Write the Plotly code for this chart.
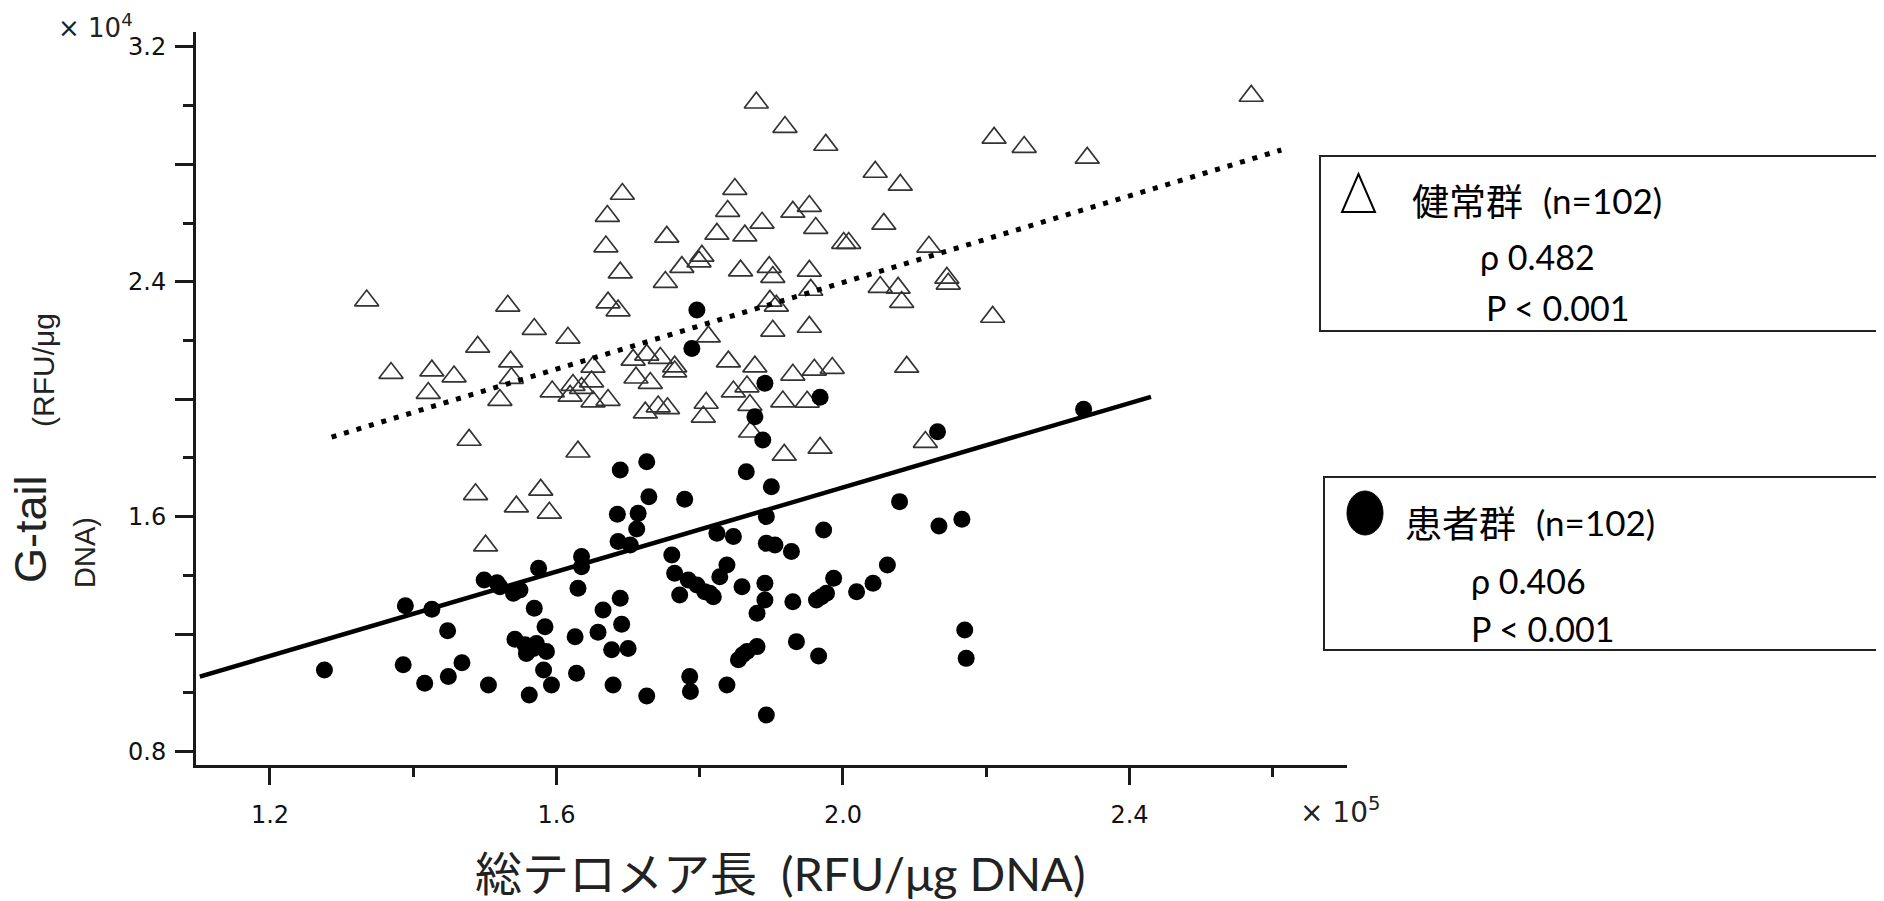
import plotly.graph_objects as go

# ---------------- data (x in 10^5 RFU/ug DNA, y in 10^4 RFU/ug DNA) ----------------
healthy_x = [1.879, 1.919, 1.692, 1.849, 1.671, 1.839, 1.930, 1.887, 1.824, 1.863,
             1.754, 1.669, 1.689, 1.775, 1.799, 1.803, 1.752, 1.857, 1.897, 1.902,
             1.335, 1.532, 1.672, 1.686, 1.898, 1.907, 1.812, 1.902, 1.569, 1.616,
             1.490, 1.369, 1.426, 1.457, 1.421, 1.536, 1.537, 1.521, 1.594, 1.623,
             1.635, 1.619, 1.651, 1.649, 1.651, 1.672, 1.707, 1.726, 1.745, 1.765,
             1.765, 1.711, 1.731, 1.724, 1.742, 1.755, 1.809, 1.805, 1.840, 1.877,
             1.847, 1.866, 1.870, 1.871, 1.916, 1.930, 1.478, 1.630, 1.918, 1.487,
             1.544, 1.578, 1.590, 1.501, 1.976, 2.211, 2.253, 2.341, 2.570, 2.045,
             2.080, 1.953, 1.962, 2.057, 2.001, 2.008, 1.953, 1.955, 2.052, 2.077,
             2.082, 2.120, 2.145, 2.147, 2.209, 1.953, 1.960, 1.985, 1.950, 1.968,
             2.089, 2.115]
healthy_y = [3.010, 2.927, 2.699, 2.716, 2.624, 2.641, 2.638, 2.601, 2.563, 2.557,
             2.553, 2.520, 2.431, 2.450, 2.469, 2.488, 2.399, 2.438, 2.450, 2.416,
             2.336, 2.318, 2.329, 2.302, 2.335, 2.318, 2.213, 2.233, 2.239, 2.209,
             2.178, 2.089, 2.097, 2.077, 2.021, 2.128, 2.072, 1.997, 2.026, 2.048,
             2.038, 2.011, 2.110, 2.060, 1.992, 1.997, 2.134, 2.151, 2.140, 2.111,
             2.094, 2.073, 2.055, 1.954, 1.975, 1.969, 1.987, 1.940, 2.128, 2.111,
             2.026, 2.043, 1.980, 1.889, 1.992, 2.083, 1.861, 1.821, 1.810, 1.676,
             1.634, 1.691, 1.613, 1.501, 2.866, 2.890, 2.859, 2.822, 3.033, 2.774,
             2.730, 2.658, 2.583, 2.597, 2.532, 2.532, 2.437, 2.372, 2.382, 2.379,
             2.331, 2.519, 2.413, 2.393, 2.280, 2.246, 2.100, 2.106, 1.991, 1.834,
             2.110, 1.854]

patient_x = [1.796, 1.789, 1.891, 1.877, 1.888, 1.726, 1.689, 1.865, 1.900, 1.729,
             1.779, 1.685, 1.714, 1.712, 1.893, 1.686, 1.703, 1.824, 1.847, 1.893,
             1.635, 1.635, 1.575, 1.499, 1.517, 1.540, 1.549, 1.389, 1.426, 1.761,
             1.765, 1.772, 1.796, 1.807, 1.819, 1.838, 1.828, 1.859, 1.891, 1.891,
             1.880, 1.630, 1.689, 1.569, 1.448, 1.584, 1.626, 1.658, 1.691, 1.542,
             1.556, 1.568, 1.586, 1.558, 1.677, 1.700, 1.386, 1.468, 1.276, 1.416,
             1.449, 1.505, 1.582, 1.593, 1.562, 1.628, 1.679, 1.726, 1.786, 1.787,
             1.838, 1.854, 1.866, 1.880, 1.893, 1.968, 2.132, 2.336, 2.079, 1.973,
             2.134, 2.166, 1.905, 1.928, 1.930, 1.963, 1.977, 1.987, 2.019, 2.042,
             2.062, 1.935, 1.966, 2.170, 2.172, 1.814, 1.784, 1.572, 1.521, 1.970,
             1.860, 1.665]
patient_y = [2.304, 2.173, 2.054, 1.940, 1.861, 1.787, 1.759, 1.753, 1.702, 1.668,
             1.659, 1.608, 1.611, 1.558, 1.600, 1.515, 1.503, 1.543, 1.532, 1.509,
             1.464, 1.429, 1.424, 1.384, 1.375, 1.339, 1.350, 1.296, 1.284, 1.469,
             1.407, 1.333, 1.367, 1.344, 1.327, 1.435, 1.395, 1.361, 1.373, 1.316,
             1.271, 1.356, 1.322, 1.288, 1.211, 1.225, 1.191, 1.206, 1.233, 1.182,
             1.163, 1.151, 1.140, 1.134, 1.146, 1.151, 1.095, 1.102, 1.077, 1.032,
             1.055, 1.026, 1.077, 1.026, 0.992, 1.066, 1.026, 0.989, 1.055, 1.004,
             1.026, 1.112, 1.140, 1.157, 0.924, 2.007, 1.889, 1.966, 1.651, 1.554,
             1.568, 1.591, 1.503, 1.481, 1.310, 1.316, 1.339, 1.390, 1.344, 1.373,
             1.435, 1.174, 1.125, 1.214, 1.117, 1.339, 1.384, 1.168, 1.361, 1.327,
             1.129, 1.282]

# regression lines (end points)
healthy_fit_x = [1.286, 2.612]
healthy_fit_y = [1.871, 2.849]
patient_fit_x = [1.102, 2.430]
patient_fit_y = [1.055, 2.008]

x_major = [1.2, 1.6, 2.0, 2.4]
x_minor = [1.4, 1.8, 2.2, 2.6]
y_major = [0.8, 1.2, 1.6, 2.0, 2.4, 2.8, 3.2]
y_major_text = ["0.8", " ", "1.6", " ", "2.4", " ", "3.2"]
y_minor = [1.0, 1.4, 1.8, 2.2, 2.6, 3.0]

legend_healthy = ["健常群", "(n=102)", "ρ 0.482", "P < 0.001"]
legend_patient = ["患者群", "(n=102)", "ρ 0.406", "P < 0.001"]

# ---------------- layout helpers ----------------
# The page body has an 8px margin, so the figure is drawn 8px in from the top-left.
OFF = 8
SW, SH = 1884, 901                 # screen size
W, H = SW - OFF, SH - OFF          # figure size
L, R, T, B = 196, 1347, 32, 765    # plot area in screen pixels


def px(x):
    return (x - L) / (R - L)


def py(y):
    return (B - y) / (B - T)


INK = "#1a1a1a"
LAT = "Lato, Noto Sans CJK JP, sans-serif"
CJK = "Noto Sans CJK JP, sans-serif"

fig = go.Figure()
fig.add_trace(go.Scatter(
    x=healthy_x, y=healthy_y, mode="markers",
    marker=dict(symbol="triangle-up-open", size=21, color="#333333",
                line=dict(width=1.7, color="#333333")),
    showlegend=False, hoverinfo="skip"))
fig.add_trace(go.Scatter(
    x=patient_x, y=patient_y, mode="markers",
    marker=dict(symbol="circle", size=17, color="#000000"),
    showlegend=False, hoverinfo="skip"))
fig.add_trace(go.Scatter(
    x=healthy_fit_x, y=healthy_fit_y, mode="lines",
    line=dict(color="#000000", width=5, dash="5px,8px"),
    showlegend=False, hoverinfo="skip"))
fig.add_trace(go.Scatter(
    x=patient_fit_x, y=patient_fit_y, mode="lines",
    line=dict(color="#000000", width=4.5),
    showlegend=False, hoverinfo="skip"))

tickfont = dict(family="DejaVu Sans, sans-serif", size=24, color="#111111")

fig.update_layout(
    width=W, height=H,
    margin=dict(l=L - OFF, r=W - (R - OFF), t=T - OFF, b=H - (B - OFF), pad=0),
    paper_bgcolor="white", plot_bgcolor="white",
    xaxis=dict(range=[1.0967, 2.7037], showgrid=False, zeroline=False,
               showline=True, linewidth=3, linecolor=INK,
               tickmode="array", tickvals=x_major, ticktext=[f"{v:.1f}" for v in x_major],
               ticks="outside", ticklen=17, tickwidth=3, tickcolor=INK,
               ticklabelstandoff=9, tickfont=tickfont,
               minor=dict(tickmode="array", tickvals=x_minor, ticks="outside",
                          ticklen=9, tickwidth=3, tickcolor=INK, showgrid=False)),
    yaxis=dict(range=[0.7537, 3.251], showgrid=False, zeroline=False,
               showline=True, linewidth=3, linecolor=INK,
               tickmode="array", tickvals=y_major, ticktext=y_major_text,
               ticks="outside", ticklen=18, tickwidth=3, tickcolor=INK,
               ticklabelstandoff=4, tickfont=tickfont,
               minor=dict(tickmode="array", tickvals=y_minor, ticks="outside",
                          ticklen=10, tickwidth=3, tickcolor=INK, showgrid=False)),
)

ann = []
# axis multipliers
ann.append(dict(x=px(95), y=py(26), text="× 10<sup>4</sup>", showarrow=False,
                xref="paper", yref="paper", xanchor="center", yanchor="middle",
                font=dict(family="DejaVu Sans, sans-serif", size=26, color="#222222")))
ann.append(dict(x=px(1340), y=py(810), text="× 10<sup>5</sup>", showarrow=False,
                xref="paper", yref="paper", xanchor="center", yanchor="middle",
                font=dict(family="DejaVu Sans, sans-serif", size=28, color="#222222")))
# axis titles
ann.append(dict(x=px(780), y=py(873), text="総テロメア長  (RFU/μg DNA)", showarrow=False,
                xref="paper", yref="paper", xanchor="center", yanchor="middle",
                font=dict(family=LAT, size=47, color="#222222")))
ann.append(dict(x=px(30), y=py(529), text="G-tail", showarrow=False, textangle=-90,
                xref="paper", yref="paper", xanchor="center", yanchor="middle",
                font=dict(family="Liberation Sans, Arial, sans-serif", size=45, color="#222222")))
ann.append(dict(x=px(44), y=py(370), text="(RFU/μg", showarrow=False, textangle=-90,
                xref="paper", yref="paper", xanchor="center", yanchor="middle",
                font=dict(family="Liberation Sans, Arial, sans-serif", size=30, color="#222222")))
ann.append(dict(x=px(85), y=py(553), text="DNA)", showarrow=False, textangle=-90,
                xref="paper", yref="paper", xanchor="center", yanchor="middle",
                font=dict(family="Liberation Sans, Arial, sans-serif", size=29, color="#222222")))


def box_text(x, y, t, fam, size):
    return dict(x=px(x), y=py(y), text=t, showarrow=False, xref="paper", yref="paper",
                xanchor="left", yanchor="middle",
                font=dict(family=fam, size=size, color="#000000"))


ann += [box_text(1410, 200, legend_healthy[0], CJK, 37),
        box_text(1541, 200, legend_healthy[1], LAT, 35),
        box_text(1478, 256, legend_healthy[2], LAT, 34),
        box_text(1484, 307, legend_healthy[3], LAT, 34),
        box_text(1403, 522, legend_patient[0], CJK, 37),
        box_text(1534, 522, legend_patient[1], LAT, 35),
        box_text(1469, 580, legend_patient[2], LAT, 34),
        box_text(1469, 628, legend_patient[3], LAT, 34)]

fig.update_layout(annotations=ann)

shapes = [
    dict(type="rect", xref="paper", yref="paper", x0=px(1320), x1=px(1900),
         y0=py(156), y1=py(331), line=dict(color="#222222", width=2)),
    dict(type="rect", xref="paper", yref="paper", x0=px(1324), x1=px(1900),
         y0=py(477), y1=py(650), line=dict(color="#222222", width=2)),
    dict(type="path", xref="paper", yref="paper",
         path=f"M {px(1342)} {py(212)} L {px(1375)} {py(212)} L {px(1358.5)} {py(174)} Z",
         line=dict(color="#000000", width=2)),
    dict(type="circle", xref="paper", yref="paper", x0=px(1347), x1=px(1383),
         y0=py(491), y1=py(535), fillcolor="#000000", line=dict(color="#000000", width=1)),
]
fig.update_layout(shapes=shapes)

fig.write_html("out.html")
